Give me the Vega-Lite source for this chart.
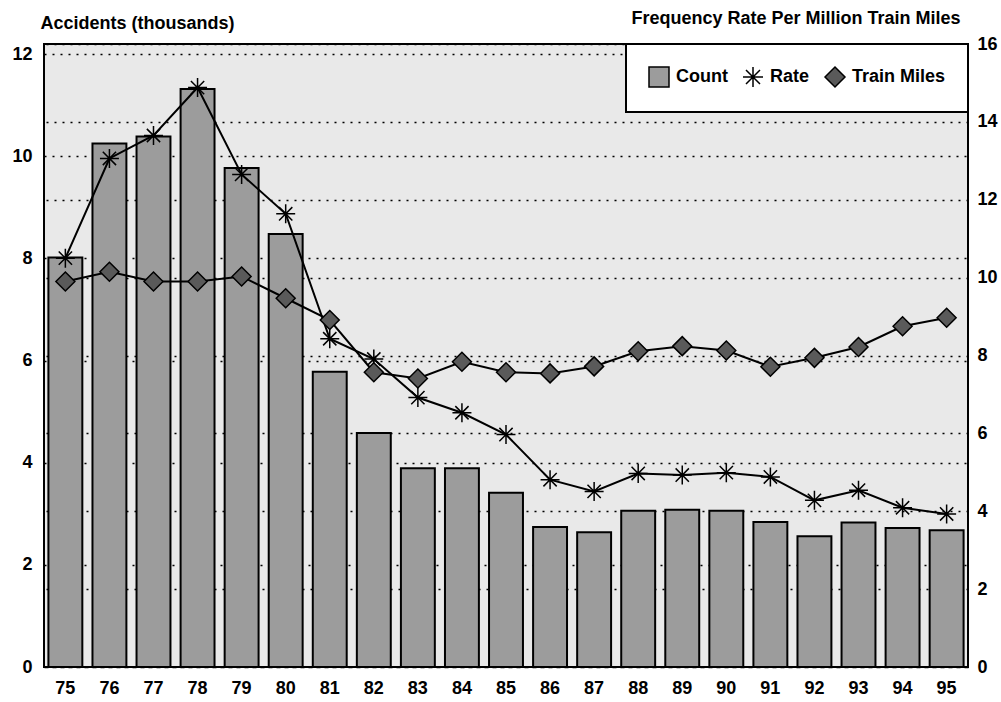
{
  "$schema": "https://vega.github.io/schema/vega-lite/v6.json",
  "width": 924,
  "height": 623,
  "autosize": "none",
  "padding": {"left": 44, "top": 44, "right": 33, "bottom": 35},
  "background": "white",
  "config": {
    "view": {"fill": "#e9e9e9", "stroke": "black", "strokeWidth": 2},
    "font": "Liberation Sans",
    "axis": {
      "labelFont": "Liberation Sans", "labelFontSize": 18, "labelFontWeight": "bold", "labelColor": "black",
      "ticks": false, "domain": false,
      "titleFont": "Liberation Sans", "titleFontSize": 18, "titleFontWeight": "bold", "titleColor": "black"
    },
    "legend": {
      "orient": "top-right", "offset": 0, "direction": "horizontal",
      "fillColor": "white", "strokeColor": "black", "strokeWidth": 2, "padding": 22,
      "labelFont": "Liberation Sans", "labelFontSize": 18, "labelFontWeight": "bold", "labelColor": "black",
      "symbolSize": 400, "symbolStrokeWidth": 1.5, "labelOffset": 6, "columnPadding": 12
    }
  },
  "data": {
    "values": [
      {"year": "75", "Count": 8.02, "Rate": 10.5, "Train Miles": 9.9},
      {"year": "76", "Count": 10.25, "Rate": 13.06, "Train Miles": 10.15},
      {"year": "77", "Count": 10.39, "Rate": 13.65, "Train Miles": 9.9},
      {"year": "78", "Count": 11.32, "Rate": 14.88, "Train Miles": 9.9},
      {"year": "79", "Count": 9.77, "Rate": 12.65, "Train Miles": 10.03},
      {"year": "80", "Count": 8.48, "Rate": 11.64, "Train Miles": 9.47},
      {"year": "81", "Count": 5.78, "Rate": 8.43, "Train Miles": 8.91},
      {"year": "82", "Count": 4.58, "Rate": 7.91, "Train Miles": 7.57},
      {"year": "83", "Count": 3.89, "Rate": 6.92, "Train Miles": 7.41},
      {"year": "84", "Count": 3.89, "Rate": 6.53, "Train Miles": 7.84},
      {"year": "85", "Count": 3.41, "Rate": 5.97, "Train Miles": 7.57},
      {"year": "86", "Count": 2.74, "Rate": 4.81, "Train Miles": 7.54},
      {"year": "87", "Count": 2.64, "Rate": 4.51, "Train Miles": 7.72},
      {"year": "88", "Count": 3.06, "Rate": 4.97, "Train Miles": 8.11},
      {"year": "89", "Count": 3.08, "Rate": 4.93, "Train Miles": 8.24},
      {"year": "90", "Count": 3.06, "Rate": 4.99, "Train Miles": 8.13},
      {"year": "91", "Count": 2.84, "Rate": 4.88, "Train Miles": 7.71},
      {"year": "92", "Count": 2.56, "Rate": 4.28, "Train Miles": 7.94},
      {"year": "93", "Count": 2.83, "Rate": 4.54, "Train Miles": 8.22},
      {"year": "94", "Count": 2.72, "Rate": 4.09, "Train Miles": 8.75},
      {"year": "95", "Count": 2.68, "Rate": 3.93, "Train Miles": 8.97}
    ]
  },
  "layer": [
    {
      "mark": {"type": "bar", "fill": "#9c9c9c", "stroke": "black", "strokeWidth": 2},
      "encoding": {
        "x": {
          "field": "year", "type": "ordinal",
          "scale": {"paddingInner": 0.23, "paddingOuter": 0.1},
          "axis": {"title": null, "labelAngle": 0, "labelPadding": 12}
        },
        "y": {
          "field": "Count", "type": "quantitative",
          "scale": {"domain": [0, 12.2], "nice": false},
          "axis": {
            "title": "Accidents (thousands)", "values": [0, 2, 4, 6, 8, 10, 12],
            "grid": true, "gridDash": [2, 6], "gridColor": "black", "gridWidth": 1.5,
            "labelPadding": 12, "titleAngle": 0, "titleAlign": "left", "titleBaseline": "alphabetic",
            "titleX": -4, "titleY": -16
          }
        }
      }
    },
    {
      "transform": [{"fold": ["Rate", "Train Miles"], "as": ["series", "value"]}],
      "encoding": {
        "x": {"field": "year", "type": "ordinal"},
        "y": {
          "field": "value", "type": "quantitative",
          "scale": {"domain": [0, 16], "nice": false},
          "axis": {
            "orient": "right", "title": "Frequency Rate Per Million Train Miles",
            "values": [0, 2, 4, 6, 8, 10, 12, 14, 16],
            "grid": true, "gridDash": [2, 6], "gridColor": "black", "gridWidth": 1.5,
            "labelPadding": 9, "titleAngle": 0, "titleAlign": "right", "titleBaseline": "alphabetic",
            "titleX": -8, "titleY": -21
          }
        }
      },
      "layer": [
        {
          "mark": {"type": "line", "color": "black", "strokeWidth": 2},
          "encoding": {"detail": {"field": "series"}}
        },
        {
          "mark": {"type": "point", "filled": true, "size": 360, "strokeWidth": 1.5, "opacity": 1},
          "encoding": {
            "shape": {
              "field": "series", "type": "nominal",
              "scale": {
                "domain": ["Count", "Rate", "Train Miles"],
                "range": ["square", "M-1,0L1,0M0,-1L0,1M-0.7,-0.7L0.7,0.7M-0.7,0.7L0.7,-0.7", "diamond"]
              },
              "legend": {"title": null}
            },
            "fill": {
              "field": "series", "type": "nominal",
              "scale": {"domain": ["Count", "Rate", "Train Miles"], "range": ["#9c9c9c", "white", "#5a5a5a"]},
              "legend": {"title": null}
            },
            "stroke": {
              "field": "series", "type": "nominal",
              "scale": {"domain": ["Count", "Rate", "Train Miles"], "range": ["black", "black", "black"]},
              "legend": {"title": null}
            }
          }
        }
      ]
    }
  ],
  "resolve": {"scale": {"y": "independent"}}
}
